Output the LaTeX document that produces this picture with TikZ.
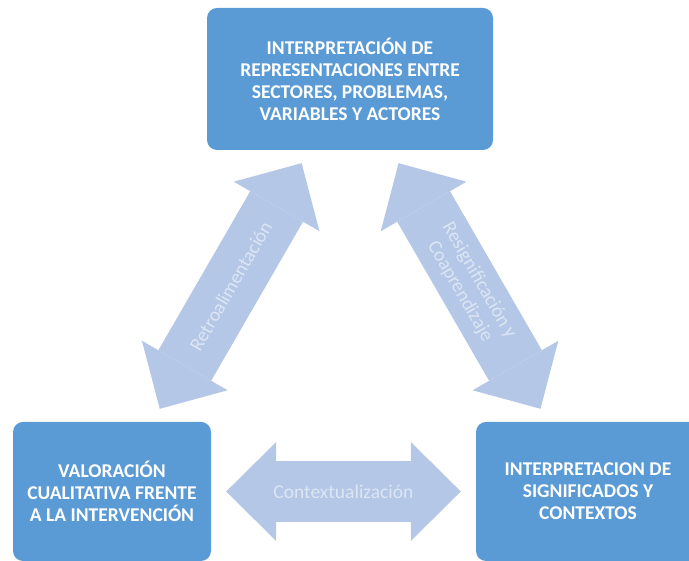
\documentclass[tikz,border=0pt]{standalone}
\usepackage{fontspec}
\setmainfont{Carlito}
\usetikzlibrary{arrows.meta}
\definecolor{box-blue}{HTML}{5B9BD5}
\definecolor{arrow-blue}{HTML}{B4C7E7}
\definecolor{arrow-text}{HTML}{DCE5F3}
\tikzset{
    blue-box/.style = {fill=box-blue, text=white, rectangle, rounded corners=10pt, align=center, inner sep=0pt, font=\bfseries\fontsize{19.5}{22}\selectfont},
    block-arrow/.style = {draw=arrow-blue, line width=61pt, shorten >=15pt, shorten <=15pt, {Triangle[length=50pt,width=99pt,line width=0pt]}-{Triangle[length=50pt,width=99pt,line width=0pt]}},
    arrow-label/.style = {text=arrow-text, align=center, font=\fontsize{19.5}{22}\selectfont},
}
\begin{document}
\begin{tikzpicture}[x=1pt,y=1pt]
\useasboundingbox (0,0) rectangle (689,561);
\clip (0,0) rectangle (689,561);
% cajas
\node[blue-box, minimum width=286pt, minimum height=142pt] (interp) at (350,482) {INTERPRETACIÓN DE\\REPRESENTACIONES ENTRE\\SECTORES, PROBLEMAS,\\VARIABLES Y ACTORES};
\node[blue-box, minimum width=198pt, minimum height=139pt] (valor) at (112,69.5) {VALORACIÓN\\CUALITATIVA FRENTE\\A LA INTERVENCIÓN};
\node[blue-box, minimum width=224pt, minimum height=139pt] (signif) at (588,69.5) {INTERPRETACION DE\\SIGNIFICADOS Y\\CONTEXTOS};
% flechas dobles
\draw[block-arrow] (valor) -- node[arrow-label, sloped] (retro) {Retroalimentación} (interp);
\draw[block-arrow] (interp) -- node[arrow-label, sloped] (resig) {Resignificación y\\Coaprendizaje} (signif);
\draw[block-arrow] (valor) -- node[arrow-label] (contex) {Contextualización} (signif);
\end{tikzpicture}
\end{document}
